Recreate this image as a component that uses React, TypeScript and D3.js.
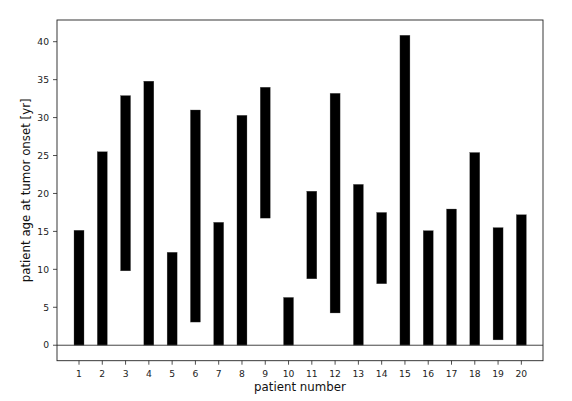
import React from "react";
import * as d3 from "d3";

const patients = [1, 2, 3, 4, 5, 6, 7, 8, 9, 10, 11, 12, 13, 14, 15, 16, 17, 18, 19, 20];
const onsetStart = [0, 0, 9.8, 0, 0, 3.05, 0, 0, 16.75, 0, 8.75, 4.25, 0, 8.1, 0, 0, 0, 0, 0.7, 0];
const onsetEnd = [15.15, 25.5, 32.9, 34.8, 12.25, 31.0, 16.2, 30.3, 34.0, 6.3, 20.3, 33.2, 21.2, 17.5, 40.85, 15.1, 17.95, 25.4, 15.5, 17.2];
const yTicks = [0, 5, 10, 15, 20, 25, 30, 35, 40];

const W = 572, H = 401;
const L = 57, R = 543, T = 20, B = 360.7;
const font = "DejaVu Sans, sans-serif";

export default function App() {
  const x = d3.scaleLinear().domain([0.055, 20.93]).range([L, R]);
  const y = d3.scaleLinear().domain([-2.04, 42.86]).range([B, T]);
  const bw = x(1.43) - x(1);
  return (
    <svg width={W} height={H} style={{ position: "absolute", left: 0, top: 0 }}>
      <rect x={0} y={0} width={W} height={H} fill="#fff" />
      {patients.map((p, i) => (
        <rect key={p} x={x(p) - bw / 2} y={y(onsetEnd[i])} width={bw}
          height={y(onsetStart[i]) - y(onsetEnd[i])} fill="#000" stroke="#555" strokeWidth={0.3} />
      ))}
      <line x1={L} x2={R} y1={y(0)} y2={y(0)} stroke="#444" strokeWidth={1} />
      <rect x={L} y={T} width={R - L} height={B - T} fill="none" stroke="#222" strokeWidth={0.9} />
      {yTicks.map(t => (
        <g key={t}>
          <line x1={L - 4} x2={L} y1={y(t)} y2={y(t)} stroke="#222" strokeWidth={0.8} />
          <text x={L - 8} y={y(t)} dy="0.35em" textAnchor="end" fontFamily={font} fontSize={9.2} fill="#222">{t}</text>
        </g>
      ))}
      {patients.map(p => (
        <g key={p}>
          <line x1={x(p)} x2={x(p)} y1={B} y2={B + 4} stroke="#222" strokeWidth={0.8} />
          <text x={x(p)} y={B + 13.5} dy="0.35em" textAnchor="middle" fontFamily={font} fontSize={9.2} fill="#222">{p}</text>
        </g>
      ))}
      <text x={(L + R) / 2} y={391} textAnchor="middle" fontFamily={font} fontSize={11.8} fill="#111">patient number</text>
      <text transform={`translate(29.5,${(T + B) / 2}) rotate(-90)`} textAnchor="middle" fontFamily={font} fontSize={11.8} fill="#111">patient age at tumor onset [yr]</text>
    </svg>
  );
}
